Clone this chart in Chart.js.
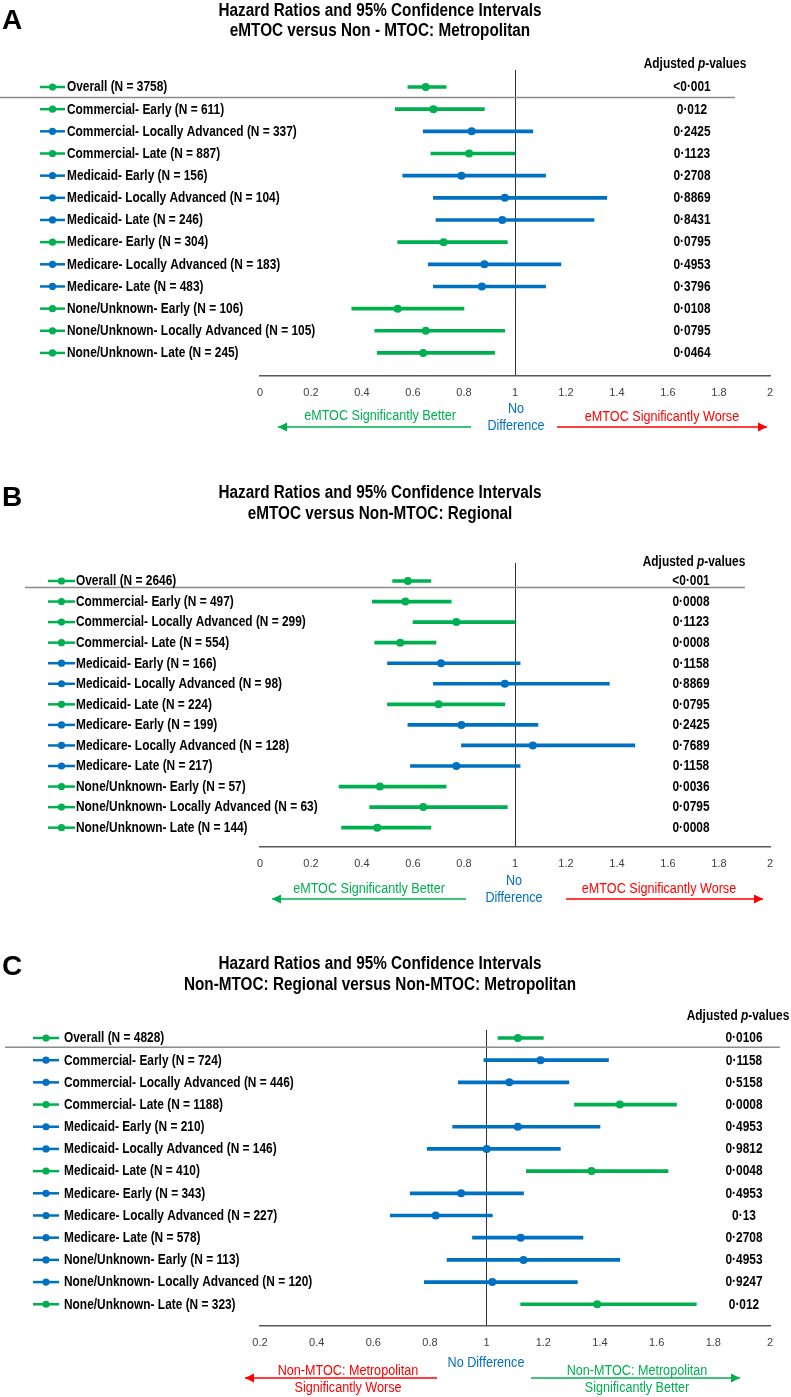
<!DOCTYPE html>
<html lang="en">
<head>
<meta charset="UTF-8">
<title>Hazard Ratios and 95% Confidence Intervals</title>
<script src="https://cdn.jsdelivr.net/npm/chart.js"></script>
<style>
    body { margin: 0; background: #fff; width: 791px; }
    .panel { position: relative; width: 791px; }
    canvas { display: block; }
</style>
</head>
<body>
<div class="panel" style="height:445px"><canvas id="chartA"></canvas></div>
<div class="panel" style="height:470px"><canvas id="chartB"></canvas></div>
<div class="panel" style="height:482px"><canvas id="chartC"></canvas></div>

<script>
// ---- data ----
const rowsA = ['Overall (N = 3758)', 'Commercial- Early (N = 611)', 'Commercial- Locally Advanced (N = 337)',
    'Commercial- Late (N = 887)', 'Medicaid- Early (N = 156)', 'Medicaid- Locally Advanced (N = 104)',
    'Medicaid- Late (N = 246)', 'Medicare- Early (N = 304)', 'Medicare- Locally Advanced (N = 183)',
    'Medicare- Late (N = 483)', 'None/Unknown- Early (N = 106)', 'None/Unknown- Locally Advanced (N = 105)',
    'None/Unknown- Late (N = 245)'];
const hrA   = [0.65, 0.68, 0.83, 0.82, 0.79, 0.96, 0.95, 0.72, 0.88, 0.87, 0.54, 0.65, 0.64];
const lowA  = [0.58, 0.53, 0.64, 0.67, 0.56, 0.68, 0.69, 0.54, 0.66, 0.68, 0.36, 0.45, 0.46];
const highA = [0.73, 0.88, 1.07, 1.00, 1.12, 1.36, 1.31, 0.97, 1.18, 1.12, 0.80, 0.96, 0.92];
const pA    = ['<0·001', '0·012', '0·2425', '0·1123', '0·2708', '0·8869', '0·8431', '0·0795', '0·4953', '0·3796', '0·0108', '0·0795', '0·0464'];
const sigA  = [1, 1, 0, 1, 0, 0, 0, 1, 0, 0, 1, 1, 1];

const rowsB = ['Overall (N = 2646)', 'Commercial- Early (N = 497)', 'Commercial- Locally Advanced (N = 299)',
    'Commercial- Late (N = 554)', 'Medicaid- Early (N = 166)', 'Medicaid- Locally Advanced (N = 98)',
    'Medicaid- Late (N = 224)', 'Medicare- Early (N = 199)', 'Medicare- Locally Advanced (N = 128)',
    'Medicare- Late (N = 217)', 'None/Unknown- Early (N = 57)', 'None/Unknown- Locally Advanced (N = 63)',
    'None/Unknown- Late (N = 144)'];
const hrB   = [0.58, 0.57, 0.77, 0.55, 0.71, 0.96, 0.70, 0.79, 1.07, 0.77, 0.47, 0.64, 0.46];
const lowB  = [0.52, 0.44, 0.60, 0.45, 0.50, 0.68, 0.50, 0.58, 0.79, 0.59, 0.31, 0.43, 0.32];
const highB = [0.67, 0.75, 1.00, 0.69, 1.02, 1.37, 0.96, 1.09, 1.47, 1.02, 0.73, 0.97, 0.67];
const pB    = ['<0·001', '0·0008', '0·1123', '0·0008', '0·1158', '0·8869', '0·0795', '0·2425', '0·7689', '0·1158', '0·0036', '0·0795', '0·0008'];
const sigB  = [1, 1, 1, 1, 0, 0, 1, 0, 0, 0, 1, 1, 1];

const rowsC = ['Overall (N = 4828)', 'Commercial- Early (N = 724)', 'Commercial- Locally Advanced (N = 446)',
    'Commercial- Late (N = 1188)', 'Medicaid- Early (N = 210)', 'Medicaid- Locally Advanced (N = 146)',
    'Medicaid- Late (N = 410)', 'Medicare- Early (N = 343)', 'Medicare- Locally Advanced (N = 227)',
    'Medicare- Late (N = 578)', 'None/Unknown- Early (N = 113)', 'None/Unknown- Locally Advanced (N = 120)',
    'None/Unknown- Late (N = 323)'];
const hrC   = [1.11, 1.19, 1.08, 1.47, 1.11, 1.00, 1.37, 0.91, 0.82, 1.12, 1.13, 1.02, 1.39];
const lowC  = [1.04, 0.99, 0.90, 1.31, 0.88, 0.79, 1.14, 0.73, 0.66, 0.95, 0.86, 0.78, 1.12];
const highC = [1.20, 1.43, 1.29, 1.67, 1.40, 1.26, 1.64, 1.13, 1.02, 1.34, 1.47, 1.32, 1.74];
const pC    = ['0·0106', '0·1158', '0·5158', '0·0008', '0·4953', '0·9812', '0·0048', '0·4953', '0·13', '0·2708', '0·4953', '0·9247', '0·012'];
const sigC  = [1, 0, 0, 1, 0, 0, 1, 0, 0, 0, 0, 0, 1];

const xRangeAB = [0, 2];      // hazard ratio axis, step 0.2
const xRangeC  = [0.2, 2];

// ---- style ----
const GREEN = '#00B050', BLUE = '#0070C0', RED = '#FF0000';
const SANS = "'Liberation Sans', Arial, sans-serif";
const SQUEEZE = 0.85;   // narrow the glyphs a bit, the original uses a condensed face

function arrow(ctx, x1, x2, y, color, dir) {
    ctx.save();
    ctx.strokeStyle = color; ctx.fillStyle = color; ctx.lineWidth = 1.3;
    ctx.beginPath(); ctx.moveTo(x1, y); ctx.lineTo(x2, y); ctx.stroke();
    const tip = dir < 0 ? x1 : x2;
    ctx.beginPath();
    ctx.moveTo(tip, y);
    ctx.lineTo(tip - dir * 9, y - 4.5);
    ctx.lineTo(tip - dir * 9, y + 4.5);
    ctx.closePath(); ctx.fill();
    ctx.restore();
}

function text(ctx, s, x, y, font, color, align, sx) {
    ctx.save();
    ctx.font = font; ctx.fillStyle = color; ctx.textAlign = align || 'center'; ctx.textBaseline = 'middle';
    ctx.translate(x, y); ctx.scale(sx || SQUEEZE, 1);
    ctx.fillText(s, 0, 0);
    ctx.restore();
}

// panel decorations: labels, p-values, titles, direction arrows
function decor(cfg) {
    return {
        id: 'decor',
        afterDraw(chart) {
            const ctx = chart.ctx, ys = chart.scales.y;
            ctx.save();
            text(ctx, cfg.letter, 2, cfg.letterY, 'bold 28px ' + SANS, '#000', 'left', 1);
            text(ctx, 'Hazard Ratios and 95% Confidence Intervals', cfg.titleX, cfg.titleY[0], 'bold 18px ' + SANS, '#000');
            text(ctx, cfg.subtitle, cfg.titleX, cfg.titleY[1], 'bold 18px ' + SANS, '#000');

            // "Adjusted p-values" with italic p
            const parts = [['Adjusted ', 'bold 14px '], ['p', 'italic bold 14px '], ['-values', 'bold 14px ']];
            let w = 0;
            parts.forEach(p => { ctx.font = p[1] + SANS; w += ctx.measureText(p[0]).width * SQUEEZE; });
            let x = cfg.adjX - w / 2;
            parts.forEach(p => {
                text(ctx, p[0], x, cfg.adjY, p[1] + SANS, '#000', 'left');
                ctx.font = p[1] + SANS;
                x += ctx.measureText(p[0]).width * SQUEEZE;
            });

            // separator under Overall
            const sy = ys.getPixelForValue(cfg.sepAt);
            ctx.strokeStyle = '#8a8a8a'; ctx.lineWidth = 1.5;
            ctx.beginPath(); ctx.moveTo(cfg.sepX[0], sy); ctx.lineTo(cfg.sepX[1], sy); ctx.stroke();

            cfg.rows.forEach((label, i) => {
                const y = ys.getPixelForValue(i);
                const col = cfg.sig[i] ? GREEN : BLUE;
                ctx.strokeStyle = col; ctx.fillStyle = col; ctx.lineWidth = 2.5;
                ctx.beginPath(); ctx.moveTo(cfg.mark[0], y); ctx.lineTo(cfg.mark[1], y); ctx.stroke();
                ctx.beginPath(); ctx.arc((cfg.mark[0] + cfg.mark[1]) / 2, y, 3.6, 0, Math.PI * 2); ctx.fill();
                text(ctx, label, cfg.labelX, y + 0.5, 'bold 14px ' + SANS, '#000', 'left');
                text(ctx, cfg.p[i], cfg.pX, y + 0.5, 'bold 14px ' + SANS, '#000');
            });

            const a = cfg.notes;
            a.texts.forEach(t => text(ctx, t[0], t[1], t[2], '14px ' + SANS, t[3], 'center', 0.9));
            a.arrows.forEach(r => arrow(ctx, r[0], r[1], r[2], r[3], r[4]));
            ctx.restore();
        }
    };
}

function forest(id, cfg) {
    const colors = cfg.sig.map(s => s ? GREEN : BLUE);
    return new Chart(document.getElementById(id), {
        type: 'bar',
        data: {
            datasets: [
                {
                    type: 'scatter',
                    data: cfg.hr.map((v, i) => ({ x: v, y: i })),
                    pointRadius: 4,
                    pointBackgroundColor: colors,
                    pointBorderWidth: 0,
                    order: 0
                },
                {
                    type: 'bar',
                    data: cfg.low.map((v, i) => ({ y: i, x: [v, cfg.high[i]] })),
                    backgroundColor: colors,
                    barThickness: 3,
                    borderSkipped: false,
                    order: 1
                }
            ]
        },
        options: {
            indexAxis: 'y',
            responsive: true,
            maintainAspectRatio: false,
            animation: false,
            layout: { padding: cfg.pad },
            plugins: { legend: { display: false }, tooltip: { enabled: false } },
            scales: {
                x: {
                    type: 'linear',
                    min: cfg.range[0], max: cfg.range[1],
                    ticks: {
                        stepSize: 0.2, padding: 10, color: '#404040', font: { family: SANS, size: 11 },
                        callback: v => String(+v.toFixed(1))
                    },
                    grid: {
                        drawTicks: false,
                        lineWidth: 1,
                        color: c => (c.tick && c.tick.value === 1) ? '#333' : 'rgba(0,0,0,0)'
                    },
                    border: { display: true, color: '#595959', width: 1.5 },
                    afterFit: s => { s.height = 24; }
                },
                y: {
                    type: 'linear', reverse: true, offset: false, bounds: 'data',
                    min: cfg.yRange[0], max: cfg.yRange[1], display: false
                }
            }
        },
        plugins: [decor(cfg)]
    });
}

forest('chartA', {
    rows: rowsA, hr: hrA, low: lowA, high: highA, p: pA, sig: sigA, range: xRangeAB,
    letter: 'A', letterY: 21, subtitle: 'eMTOC versus Non - MTOC: Metropolitan', titleX: 380, titleY: [11, 31],
    adjX: 695, adjY: 64, pX: 692, labelX: 67, mark: [40, 65], sepAt: 0.47, sepX: [0, 735],
    pad: { left: 260, right: 21, top: 70, bottom: 45 }, yRange: [-0.767, 13.04],
    notes: {
        texts: [['eMTOC Significantly Better', 380, 416, GREEN], ['No', 516, 409, BLUE], ['Difference', 516, 426, BLUE],
                ['eMTOC Significantly Worse', 662, 417, RED]],
        arrows: [[278, 471, 427, GREEN, -1], [557, 767, 427, RED, 1]]
    }
});

forest('chartB', {
    rows: rowsB, hr: hrB, low: lowB, high: highB, p: pB, sig: sigB, range: xRangeAB,
    letter: 'B', letterY: 53, subtitle: 'eMTOC versus Non-MTOC: Regional', titleX: 380, titleY: [48, 69],
    adjX: 694, adjY: 117, pX: 691, labelX: 76, mark: [48, 75], sepAt: 0.32, sepX: [25, 745],
    pad: { left: 260, right: 21, top: 118, bottom: 44 }, yRange: [-0.875, 12.94],
    notes: {
        texts: [['eMTOC Significantly Better', 369, 444, GREEN], ['No', 514, 436, BLUE], ['Difference', 514, 453, BLUE],
                ['eMTOC Significantly Worse', 659, 444, RED]],
        arrows: [[272, 466, 454, GREEN, -1], [566, 763, 454, RED, 1]]
    }
});

forest('chartC', {
    rows: rowsC, hr: hrC, low: lowC, high: highC, p: pC, sig: sigC, range: xRangeC,
    letter: 'C', letterY: 52, subtitle: 'Non-MTOC: Regional versus Non-MTOC: Metropolitan', titleX: 380, titleY: [49, 70],
    adjX: 738, adjY: 101, pX: 744, labelX: 64, mark: [33, 59], sepAt: 0.42, sepX: [5, 780],
    pad: { left: 260, right: 21, top: 115, bottom: 47 }, yRange: [-0.36, 12.98],
    notes: {
        texts: [['No Difference', 486, 448, BLUE],
                ['Non-MTOC: Metropolitan', 348, 456, RED], ['Significantly Worse', 348, 473, RED],
                ['Non-MTOC: Metropolitan', 637, 456, GREEN], ['Significantly Better', 637, 473, GREEN]],
        arrows: [[245, 437, 463, RED, -1], [531, 740, 463, GREEN, 1]]
    }
});
</script>
</body>
</html>
